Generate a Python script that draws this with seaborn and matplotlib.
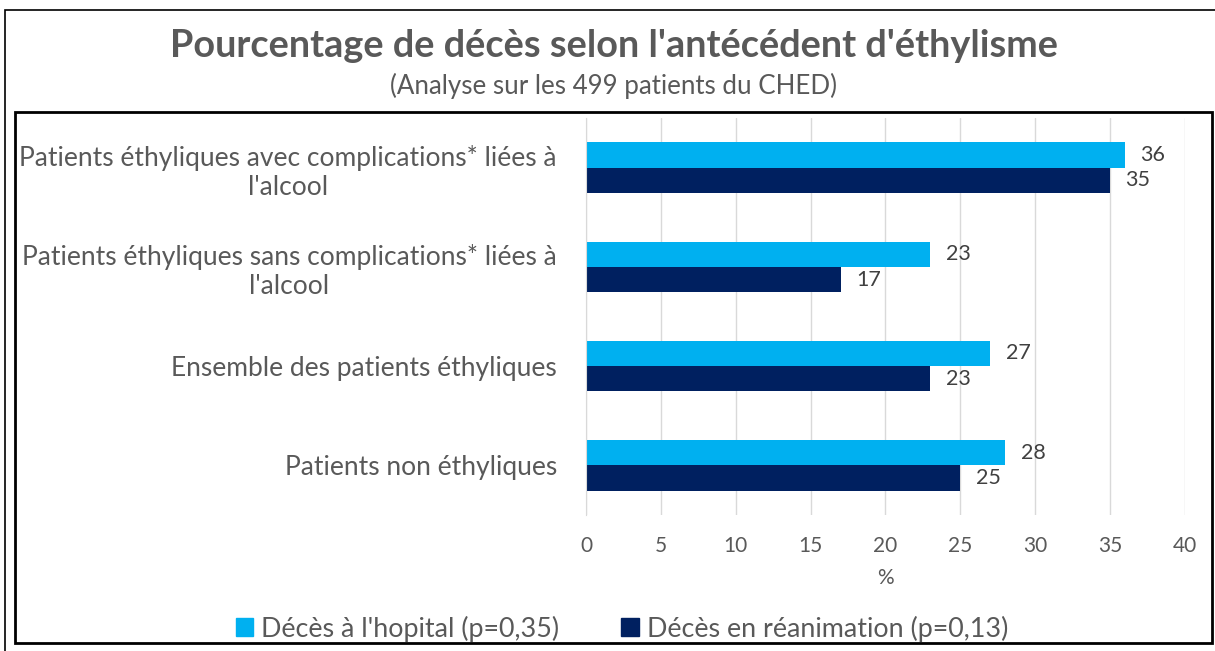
import matplotlib.pyplot as plt
import seaborn as sns
import pandas as pd
from matplotlib.patches import Rectangle

# Données
categories = [
    "Patients éthyliques avec complications* liées à\nl'alcool",
    "Patients éthyliques sans complications* liées à\nl'alcool",
    "Ensemble des patients éthyliques",
    "Patients non éthyliques",
]
series = ["Décès à l'hopital (p=0,35)", "Décès en réanimation (p=0,13)"]
hopital = [36, 23, 27, 28]
reanimation = [35, 17, 23, 25]
colors = ["#00B0F0", "#002060"]

df = pd.DataFrame({
    "Catégorie": categories * 2,
    "Série": [series[0]] * 4 + [series[1]] * 4,
    "Pourcentage": hopital + reanimation,
})

sns.set_style("white")
plt.rcParams["font.family"] = ["Lato", "DejaVu Sans"]

fig = plt.figure(figsize=(12.15, 6.51), dpi=100)
ax = fig.add_axes([0.4823, 0.2089, 0.4930, 0.6098])

sns.barplot(data=df, y="Catégorie", x="Pourcentage", hue="Série",
            palette=colors, width=0.51, saturation=1, linewidth=0,
            ax=ax, legend=False)

for cont in ax.containers:
    ax.bar_label(cont, padding=11, fontsize=15.5, color="#404040")

ax.set_xlim(0, 40)
ax.set_xticks(range(0, 41, 5))
ax.set_ylim(3.5, -0.5)
ax.grid(axis="x", color="#D9D9D9", linewidth=1)
ax.set_axisbelow(True)
for s in ["top", "right", "bottom"]:
    ax.spines[s].set_visible(False)
ax.spines["left"].set_color("#D9D9D9")
ax.tick_params(axis="y", length=0, pad=21, labelsize=19, labelcolor="#595959")
ax.set_yticks([-0.5, 0.5, 1.5, 2.5, 3.5], minor=True)
ax.tick_params(axis="y", which="minor", length=8, color="#D9D9D9", width=1)
ax.tick_params(axis="x", length=0, pad=15, labelsize=15, labelcolor="#595959")
for lab in ax.get_yticklabels():
    lab.set_multialignment("center")
ax.set_ylabel("")
ax.set_xlabel("%", fontsize=15, color="#595959", labelpad=9)

fig.text(0.505, 0.93, "Pourcentage de décès selon l'antécédent d'éthylisme",
         ha="center", va="center", fontsize=27.3, fontweight="bold", color="#595959")
fig.text(0.505, 0.868, "(Analyse sur les 499 patients du CHED)",
         ha="center", va="center", fontsize=18.6, color="#595959")

handles = [Rectangle((0, 0), 1, 1, color=c) for c in colors]
fig.legend(handles, series, loc="center", bbox_to_anchor=(0.512, 0.034), ncol=2,
           frameon=False, fontsize=19.4, labelcolor="#595959", handlelength=0.65,
           handleheight=0.65, handletextpad=0.3, columnspacing=2.3)

# cadres extérieur et intérieur
fig.patches.append(Rectangle((5 / 1215, -0.01), 1.1, 1 - 10 / 651 + 0.01,
                             transform=fig.transFigure, fill=False,
                             edgecolor="black", linewidth=1.2))
fig.patches.append(Rectangle((15 / 1215, 1 - 643 / 651), 1197 / 1215, 531 / 651,
                             transform=fig.transFigure, fill=False,
                             edgecolor="black", linewidth=2))

fig.savefig("out.png", dpi=100)
